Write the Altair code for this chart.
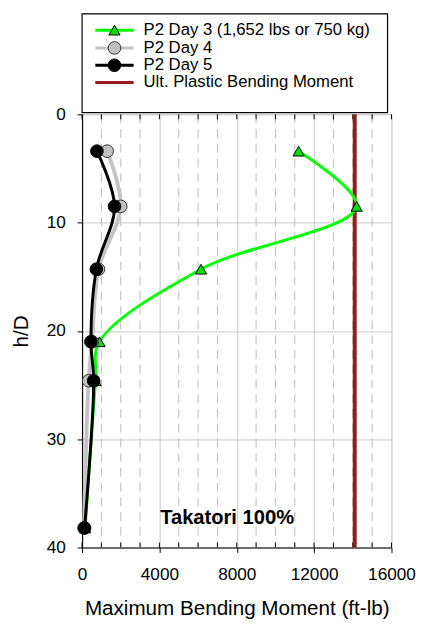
import altair as alt
import pandas as pd

# ---------------- data ----------------
depth = [3.4, 8.5, 14.3, 21.0, 24.6, 38.2]            # h/D
day3 = [11200, 14200, 6150, 900, 700, 160]             # P2 Day 3 (ft-lb)
day4 = [1300, 2000, 850, 520, 340, 100]                # P2 Day 4
day5 = [770, 1680, 740, 460, 600, 130]                 # P2 Day 5
plastic_moment = [14100]                               # Ult. plastic bending moment

x_major = [0, 4000, 8000, 12000, 16000]
x_minor = [1000, 2000, 3000, 5000, 6000, 7000, 9000, 10000, 11000, 13000, 14000, 15000]
x_small_ticks = [0, 1000, 2000, 3000, 4000, 5000, 6000, 7000, 8000, 9000, 10000,
                 11000, 12000, 13000, 14000, 15000, 16000]
y_ticks = [0, 10, 20, 30, 40]

series_names = ["P2 Day 3 (1,652 lbs or 750 kg)", "P2 Day 4", "P2 Day 5"]
plastic_name = ["Ult. Plastic Bending Moment"]
annotation_text = ["Takatori 100%"]
annotation_x = [7500]
annotation_y = [37.3]

# ---------------- styling ----------------
W, H = 315, 441
FONT = "Liberation Sans"
GREEN, GREEN_FILL = "#00ff00", "#00e000"
GRAY_LINE, GRAY_FILL = "#c4c4c4", "#c0c0c0"
BLACK = "#000000"
RED = "#931c1c"

xs = alt.Scale(domain=[0, 16000], nice=False, zero=False)
ys = alt.Scale(domain=[0, 40], reverse=True, nice=False, zero=False)

x_axis = alt.Axis(title="Maximum Bending Moment (ft-lb)", values=x_major, format="d",
                  grid=True, gridColor="#c8c8c8", gridWidth=1,
                  tickSize=5, tickColor="black", tickWidth=1,
                  domainColor="black", domainWidth=1.2,
                  labelFont=FONT, labelFontSize=17.5, labelColor="black", labelPadding=14,
                  labelFlush=False,
                  titleFont=FONT, titleFontSize=21, titleFontWeight="normal", titleColor="black",
                  titleBaseline="alphabetic", titleY=68)
y_axis = alt.Axis(title="h/D", values=y_ticks,
                  grid=True, gridColor="#c8c8c8", gridWidth=1,
                  tickSize=5, tickColor="black", tickWidth=1,
                  domainColor="black", domainWidth=1.2,
                  labelFont=FONT, labelFontSize=17.5, labelColor="black", labelPadding=12,
                  labelFlush=False,
                  titleFont=FONT, titleFontSize=21, titleFontWeight="normal", titleColor="black",
                  titleAngle=270, titleAlign="center", titleBaseline="middle",
                  titleX=-62, titleY=H / 2)

X = alt.X("moment:Q", scale=xs, axis=x_axis)
Y = alt.Y("depth:Q", scale=ys, axis=y_axis)

# ---------------- background grid / ticks ----------------
minor_df = pd.DataFrame({"moment": x_minor})
small_df = pd.DataFrame({"moment": x_small_ticks})

grid_minor = alt.Chart(minor_df).mark_rule(color="#bcbcbc", strokeDash=[9, 6], strokeWidth=1).encode(
    x=X, y=alt.value(0), y2=alt.value(H))
ticks_top = alt.Chart(small_df).mark_rule(color="black", strokeWidth=1).encode(
    x=X, y=alt.value(0), y2=alt.value(5))
ticks_bot = alt.Chart(small_df).mark_rule(color="black", strokeWidth=1).encode(
    x=X, y=alt.value(H - 5), y2=alt.value(H))

plastic_df = pd.DataFrame({"moment": plastic_moment})
plastic = alt.Chart(plastic_df).mark_rule(color=RED, strokeWidth=4).encode(
    x=X, y=alt.value(0), y2=alt.value(H))

# ---------------- series ----------------
def series_layers(values, line_color, line_width, shape, fill, stroke, size):
    df = pd.DataFrame({"moment": values, "depth": depth})
    line = alt.Chart(df).mark_line(interpolate="catmull-rom", color=line_color,
                                   strokeWidth=line_width).encode(
        x=X, y=Y, order=alt.Order("depth:Q"))
    pts = alt.Chart(df).mark_point(shape=shape, filled=True, fill=fill, stroke=stroke,
                                   strokeWidth=1, size=size, opacity=1).encode(x=X, y=Y)
    return [line, pts]

layers = [grid_minor, ticks_top, ticks_bot, plastic]
layers += series_layers(day3, GREEN, 3, "triangle-up", GREEN_FILL, "black", 130)
layers += series_layers(day4, GRAY_LINE, 4, "circle", GRAY_FILL, "#333333", 165)
layers += series_layers(day5, BLACK, 3, "circle", BLACK, BLACK, 165)

ann_df = pd.DataFrame({"moment": annotation_x, "depth": annotation_y, "label": annotation_text})
annotation = alt.Chart(ann_df).mark_text(font=FONT, fontSize=20.5, fontWeight="bold",
                                         color="black", align="center", baseline="middle").encode(
    x=X, y=Y, text="label:N")
layers.append(annotation)

# ---------------- hand-built legend (pixel layout above the plot) ----------------
leg_rows_y = [-85.7, -67.6, -50.0, -32.4]
leg_labels = series_names + plastic_name
leg_colors = [GREEN, GRAY_LINE, BLACK, RED]
leg_df = pd.DataFrame({"ly": leg_rows_y, "label": leg_labels, "col": leg_colors})

legend_box = alt.Chart(pd.DataFrame({"a": [0]})).mark_rect(
    fill="white", stroke="black", strokeWidth=1.2).encode(
    x=alt.value(0), x2=alt.value(311), y=alt.value(-102.2), y2=alt.value(-1.7))
legend_lines = alt.Chart(leg_df).mark_rule(strokeWidth=3).encode(
    x=alt.value(13.5), x2=alt.value(52.5),
    y=alt.Y("ly:Q", scale=None),
    color=alt.Color("col:N", scale=None))
legend_text = alt.Chart(leg_df).mark_text(font=FONT, fontSize=17, color="black",
                                          align="left", baseline="middle").encode(
    x=alt.value(62.6), y=alt.Y("ly:Q", scale=None), text="label:N")

marker_specs = [("triangle-up", GREEN_FILL, "black", 130),
                ("circle", GRAY_FILL, "#333333", 165),
                ("circle", BLACK, BLACK, 165)]
legend_markers = []
for i, (shape, fill, stroke, size) in enumerate(marker_specs):
    legend_markers.append(
        alt.Chart(pd.DataFrame({"ly": [leg_rows_y[i]]})).mark_point(
            shape=shape, filled=True, fill=fill, stroke=stroke, strokeWidth=1,
            size=size, opacity=1).encode(
            x=alt.value(33), y=alt.Y("ly:Q", scale=None)))

layers += [legend_box, legend_lines] + legend_markers + [legend_text]

chart = alt.layer(*layers).properties(
    width=W, height=H,
    autosize=alt.AutoSizeParams(type="none"),
    padding={"left": 75.4, "top": 102.7, "right": 26, "bottom": 72},
).configure_view(stroke="black", strokeWidth=1.2).configure(background="white")

chart.save("out.html", embed_options={"renderer": "svg", "actions": False})
